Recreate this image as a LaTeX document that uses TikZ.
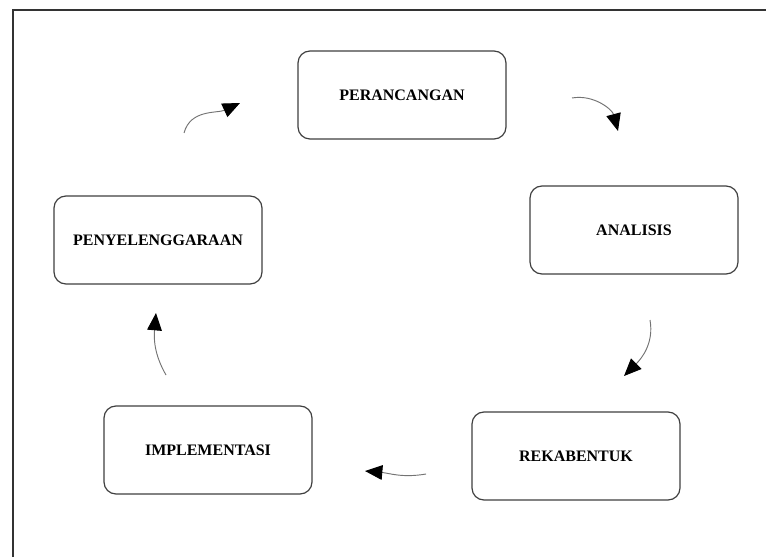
\documentclass[tikz,border=0pt]{standalone}
\usepackage{fontspec}
\setmainfont{Liberation Serif}
\usepackage{tikz}
\usetikzlibrary{positioning}
\usetikzlibrary{arrows.meta}

\begin{document}
\begin{tikzpicture}[x=0.75pt,y=0.75pt,
  stage/.style={draw=black!75,line width=0.9pt,rounded corners=9pt,
    minimum width=156pt,minimum height=66pt,font=\bfseries\fontsize{12}{14}\selectfont},
  cyc/.style={draw=black!55,line width=0.7pt,-{Triangle[color=black,length=13pt,width=11pt]}}]
  \useasboundingbox (0,0) rectangle (766,557);
  \fill[white] (0,0) rectangle (766,557);
  % frame
  \draw[black!80,line width=0.8pt] (13,0)--(13,547)--(766,547);
  % stages
  \node[stage] (rancang) at (402,462) {PERANCANGAN};
  \node[stage] (analisis) at (634,327) {ANALISIS};
  \node[stage] (rekabentuk) at (576,101) {REKABENTUK};
  \node[stage] (implementasi) at (208,107) {IMPLEMENTASI};
  \node[stage] (penyelenggaraan) at (158,317) {PENYELENGGARAAN};
  % arrow ends
  \coordinate (a1) at (184,424);
  \coordinate (b1) at (240,454);
  \coordinate (a2) at (572,459);
  \coordinate (b2) at (618,426);
  \coordinate (a3) at (650,237);
  \coordinate (b3) at (624,181);
  \coordinate (a4) at (426,83);
  \coordinate (b4) at (365,86);
  \coordinate (a5) at (166,182);
  \coordinate (b5) at (156,244);
  % cycle arrows
  \draw[cyc] (a1) to[out=75,in=205] (b1);
  \draw[cyc] (a2) to[out=10,in=105] (b2);
  \draw[cyc] (a3) to[out=-80,in=45] (b3);
  \draw[cyc] (a4) to[out=190,in=-5] (b4);
  \draw[cyc] (a5) to[out=120,in=-95] (b5);
\end{tikzpicture}
\end{document}
